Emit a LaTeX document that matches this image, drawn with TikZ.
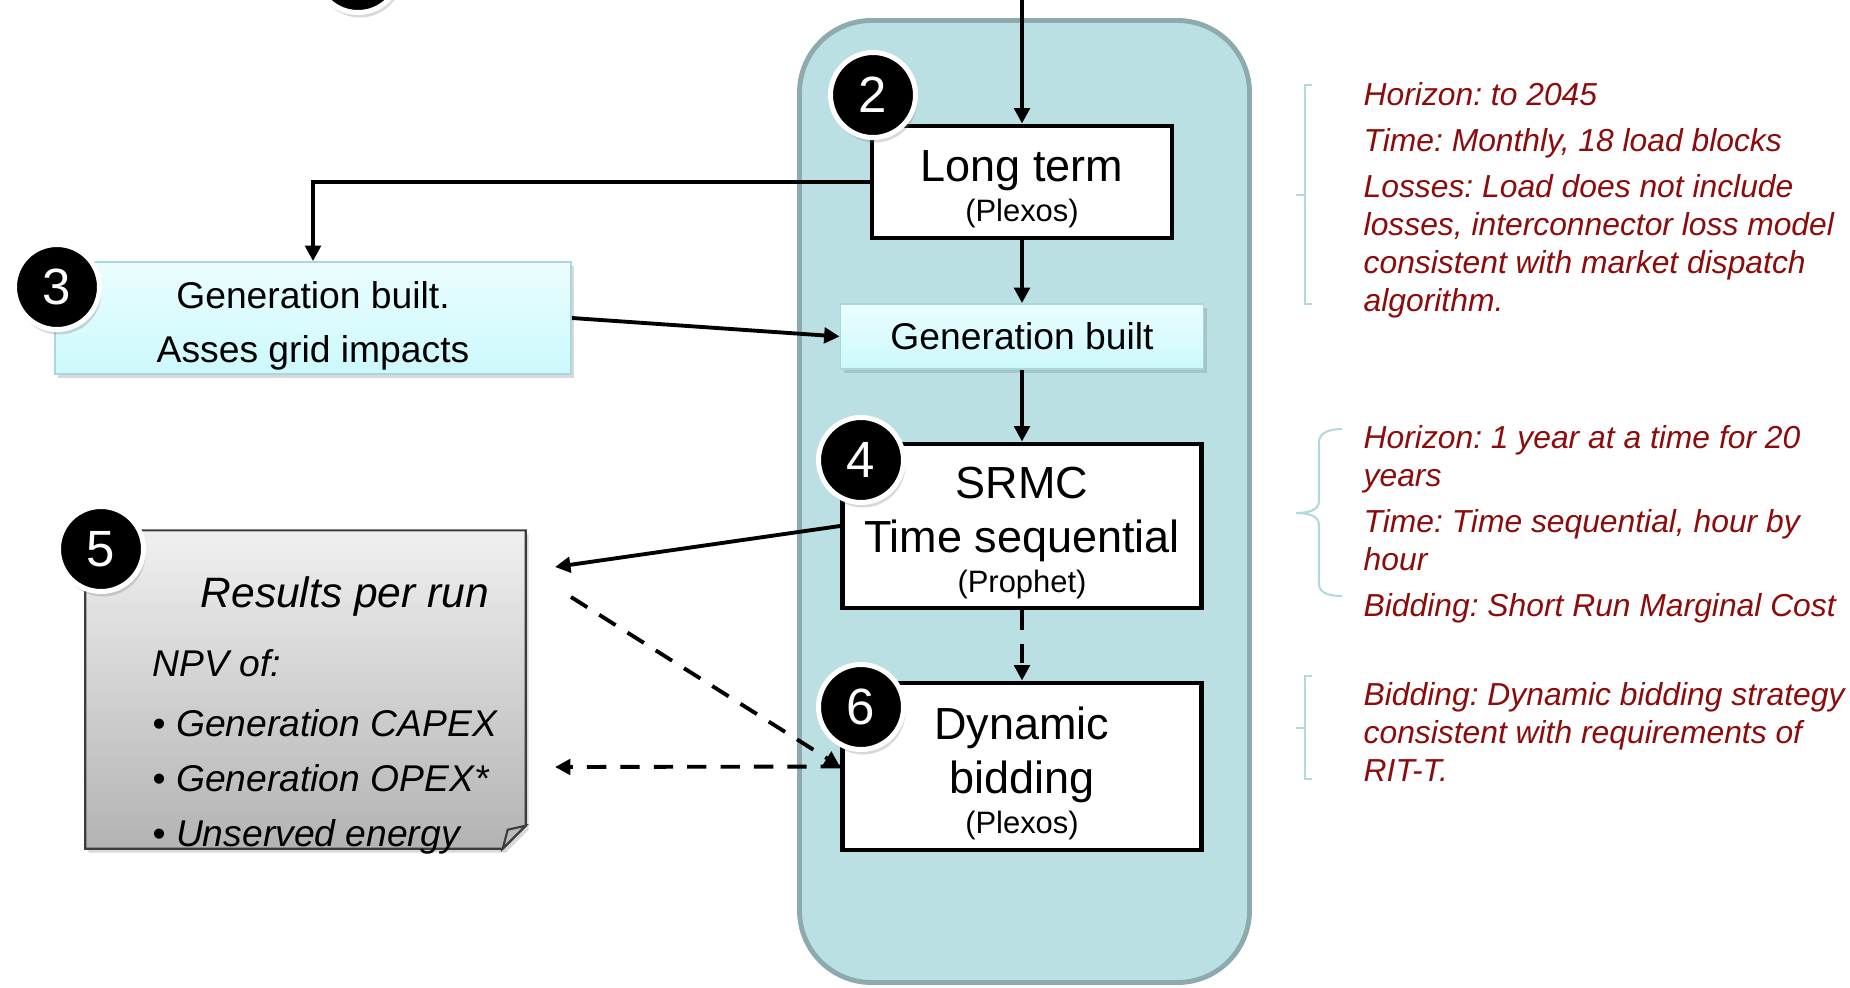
\documentclass[tikz,border=0pt]{standalone}
\usepackage{fontspec}
\setmainfont{Liberation Sans}
\usetikzlibrary{arrows.meta,shadows}

\definecolor{paneblue}{HTML}{BAE0E3}
\definecolor{paneedge}{HTML}{8DABAE}
\definecolor{gentop}{HTML}{EBFDFE}
\definecolor{genbot}{HTML}{CCF9FC}
\definecolor{genedge}{HTML}{A9D8DC}
\definecolor{notetop}{HTML}{F0F0F0}
\definecolor{notebot}{HTML}{B3B3B3}
\definecolor{noteedge}{HTML}{3C3C3C}
\definecolor{remark}{HTML}{8C0B0B}
\definecolor{bracecol}{HTML}{B2D9DC}

% strut on the first line, pushes the text down a little
\newcommand\headroom[1]{\rule{0pt}{#1}}
\newcommand\toolname[1]{\\[-4pt]{\fontsize{8.8}{10}\selectfont #1}}

\begin{document}
\frenchspacing
\begin{tikzpicture}[
    >={Triangle[length=4.4pt,width=4.4pt]},
    flow/.style={draw, line width=1.1pt, ->},
    later/.style={flow, dash pattern=on 5.5pt off 4pt},
    model/.style={draw, fill=white, line width=1.4pt, align=center, inner ysep=0pt,
        font=\fontsize{12.8}{15.4}\selectfont},
    genbox/.style={draw=genedge, line width=0.5pt, top color=gentop, bottom color=genbot,
        drop shadow={shadow xshift=0.03cm, shadow yshift=-0.04cm, opacity=0.3},
        align=center, inner ysep=0pt, font=\fontsize{10.6}{15.4}\selectfont},
    badge/.style={circle, fill=black, draw=white, line width=1.42pt, minimum size=0.85cm,
        inner sep=0pt, text=white, font=\fontsize{14.5}{15}\selectfont,
        drop shadow={shadow xshift=0.02cm, shadow yshift=-0.05cm, opacity=0.3}},
    note/.style={draw=noteedge, line width=0.6pt, top color=notetop, bottom color=notebot,
        drop shadow={shadow xshift=0.03cm, shadow yshift=-0.04cm, opacity=0.3}},
    remarks/.style={anchor=north west, align=left, inner sep=0pt, text=remark,
        font=\itshape\fontsize{9.05}{10.8}\selectfont},
    brace/.style={draw=bracecol, line width=0.6pt},
]
\useasboundingbox (0,0) rectangle (18.5,-9.87);

% container for the market models
\node[draw=paneedge, fill=paneblue, line width=1.4pt, rounded corners=0.72cm,
    minimum width=4.5cm, minimum height=9.62cm] (pane) at (10.245,-5.015) {};

\node[model, minimum width=3.0cm, minimum height=1.12cm] (lt) at (10.22,-1.82)
    {\headroom{13pt}Long term\toolname{(Plexos)}};
\node[genbox, minimum width=3.63cm, minimum height=0.65cm] (gbin) at (10.22,-3.365)
    {Generation built};
\node[model, minimum width=3.59cm, minimum height=1.64cm] (srmc) at (10.22,-5.26)
    {\headroom{13pt}SRMC\\Time sequential\toolname{(Prophet)}};
\node[model, minimum width=3.59cm, minimum height=1.67cm] (dyn) at (10.22,-7.665)
    {\headroom{13pt}Dynamic\\bidding\toolname{(Plexos)}};

\node[genbox, minimum width=5.16cm, minimum height=1.12cm] (grid) at (3.13,-3.18)
    {\headroom{12.4pt}Generation built.\\Asses grid impacts};

% results sheet with folded corner
\node[minimum width=4.39cm, minimum height=3.17cm] (res) at (3.055,-6.895) {};
\path[note] (res.north west) -- (res.north east) -- ([yshift=0.23cm]res.south east)
    -- ([xshift=-0.23cm]res.south east) -- (res.south west) -- cycle;
\draw[draw=noteedge, fill=gray!55, line width=0.6pt] ([yshift=0.23cm]res.south east)
    -- ([xshift=-0.18cm,yshift=0.19cm]res.south east) -- ([xshift=-0.23cm]res.south east) -- cycle;
\node[anchor=base west, inner sep=0pt, font=\itshape\fontsize{12.1}{14}\selectfont] (restitle)
    at (2.00,-6.07) {Results per run};
\node[anchor=north west, inner sep=0pt, align=left, font=\itshape\fontsize{10.6}{15.6}\selectfont]
    (reslist) at (1.52,-6.49)
    {NPV of:\\[1.4pt]\textup{•} Generation CAPEX\\\textup{•} Generation OPEX*\\\textup{•} Unserved energy};

\coordinate (entry) at (10.22,0.2);
\coordinate (res1) at (5.55,-5.67);
\coordinate (res2) at (5.71,-5.97);
\coordinate (res3) at (5.55,-7.67);

\draw[flow] (entry) -- (lt.north);
\draw[flow] (lt.west) -| (grid.north);
\draw[flow] (grid.east) -- (gbin.west);
\draw[flow] (lt.south) -- (gbin.north);
\draw[flow] (gbin.south) -- (srmc.north);
\draw[later] (srmc.south) -- (dyn.north);
\draw[flow] (srmc.west) -- (res1);
\draw[later] (res2) -- (dyn.west);
\draw[later] (dyn.west) -- (res3);

\node[badge] (b1) at (3.58,0.30) {};
\node[badge] (b2) at (8.73,-0.95) {2};
\node[badge] (b3) at (0.57,-2.87) {3};
\node[badge] (b4) at (8.61,-4.60) {4};
\node[badge] (b5) at (1.01,-5.49) {5};
\node[badge] (b6) at (8.61,-7.07) {6};

% notes on each model
\draw[brace] (13.12,-0.85) -- (13.05,-0.85) -- (13.05,-3.04) -- (13.12,-3.04);
\draw[brace] (13.05,-1.95) -- (12.96,-1.95);
\node[remarks] (n1) at (13.63,-0.82)
    {Horizon: to 2045\\[2.3pt]Time: Monthly, 18 load blocks\\[2.3pt]Losses: Load does not include\\losses, interconnector loss model\\consistent with market dispatch\\algorithm.};

\draw[brace] (13.42,-4.29) to[out=180,in=90] (13.19,-4.42) -- (13.19,-5.01)
    to[out=-90,in=0] (12.96,-5.13) to[out=0,in=90] (13.19,-5.25) -- (13.19,-5.84)
    to[out=-90,in=180] (13.42,-5.96);
\node[remarks] (n2) at (13.63,-4.25)
    {Horizon: 1 year at a time for 20\\years\\[2.3pt]Time: Time sequential, hour by\\hour\\[2.3pt]Bidding: Short Run Marginal Cost};

\draw[brace] (13.12,-6.76) -- (13.05,-6.76) -- (13.05,-7.79) -- (13.12,-7.79);
\draw[brace] (13.05,-7.28) -- (12.96,-7.28);
\node[remarks] (n3) at (13.63,-6.82)
    {Bidding: Dynamic bidding strategy\\consistent with requirements of\\RIT-T.};
\end{tikzpicture}
\end{document}
